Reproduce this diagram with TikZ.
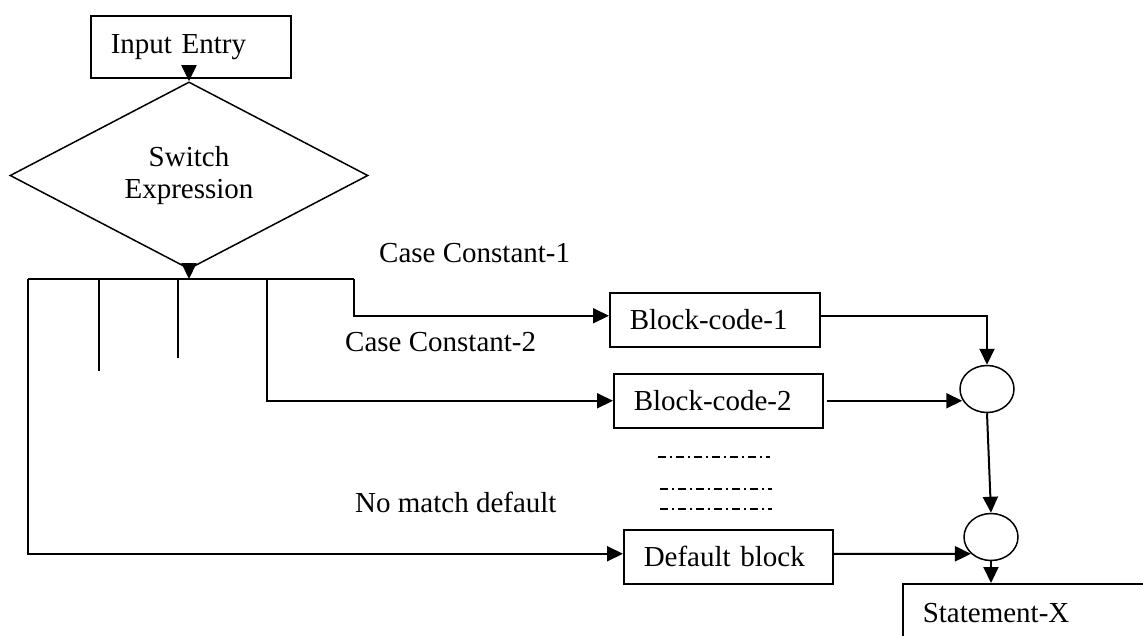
\documentclass[tikz,border=0pt]{standalone}
\usepackage{fontspec}
\setmainfont{Liberation Serif}
\usetikzlibrary{arrows.meta,shapes.geometric}

\tikzset{
  box/.style={draw, line width=1.5pt, align=left, inner xsep=20pt, inner ysep=0pt},
  joint/.style={draw, ellipse, line width=1.5pt, minimum width=54pt, minimum height=47pt, inner sep=0pt},
  flow/.style={line width=2pt, -{Triangle[length=16pt,width=15pt]}},
  wire/.style={line width=1.8pt},
  label/.style={anchor=base west, inner sep=0pt},
  gap/.style={line width=1.3pt, dash pattern=on 8pt off 4pt on 2pt off 4pt}
}

\begin{document}
\begin{tikzpicture}[x=1pt, y=-1pt, font=\fontsize{29}{35}\selectfont]
  \useasboundingbox (0,0) rectangle (1143,635);

  % entry and switch
  \node[box, text width=160pt, minimum height=62pt, anchor=north west] (input) at (90,15) {Input Entry};
  \node[draw, diamond, line width=1.5pt, minimum width=358pt, minimum height=145pt, inner sep=0pt, align=center] (switch) at (189,175.5) {\raisebox{-3pt}{Switch}\\Expression};
  \draw[flow] (switch.north |- input.south) -- (switch.north);

  % distribution bus
  \coordinate (busL) at (28,279);
  \coordinate (busR) at (354,279);
  \coordinate (tapA) at (99,279);
  \coordinate (tapB) at (178,279);
  \coordinate (tapC) at (267,279);
  \coordinate (tapAend) at (99,371);
  \coordinate (tapBend) at (178,358);
  \draw[flow] (switch.south) -- (switch.south |- busL);
  \draw[wire] (busL) -- (busR);
  \draw[wire] (tapA) -- (tapAend);
  \draw[wire] (tapB) -- (tapBend);

  % case blocks
  \node[box, text width=170pt, minimum height=54pt, anchor=north west] (blk1) at (609,292) {Block-code-1};
  \node[box, text width=169pt, minimum height=54pt, anchor=north west] (blk2) at (613,373) {Block-code-2};
  \node[box, text width=169pt, minimum height=54pt, anchor=north west] (dflt) at (623,529) {Default block};

  \draw[flow] (busR) |- ([yshift=4pt]blk1.west);
  \draw[flow] (tapC) |- (blk2.west);
  \draw[flow] (busL) |- ([yshift=3pt]dflt.west);

  % labels on the branches
  \node[label] (lab1) at (379,262) {Case Constant-1};
  \node[label] (lab2) at (345,351) {Case Constant-2};
  \node[label] (lab3) at (355,512) {No match default};

  % elided cases
  \coordinate (g1a) at (658,457); \coordinate (g1b) at (770,457);
  \coordinate (g2a) at (660,489); \coordinate (g2b) at (772,489);
  \coordinate (g3a) at (660,509); \coordinate (g3b) at (772,509);
  \draw[gap] (g1a) -- (g1b);
  \draw[gap] (g2a) -- (g2b);
  \draw[gap] (g3a) -- (g3b);

  % merge points
  \node[joint] (c1) at (987,389) {};
  \node[joint] (c2) at (991,537) {};
  \draw[flow] ([yshift=4pt]blk1.east) -| (c1.north);
  \draw[flow] ([xshift=3pt]blk2.east) -- ([xshift=3pt]c1.west |- blk2.east);
  \draw[flow] (c1.south) -- (c2.north);
  \draw[flow] ([yshift=3pt]dflt.east) -- (c2.220);

  % following statement
  \node[box, text width=220pt, minimum height=58pt, anchor=north west] (stmt) at (902,583) {Statement-X};
  \draw[flow] (c2.south) -- (c2.south |- stmt.north);
\end{tikzpicture}
\end{document}
